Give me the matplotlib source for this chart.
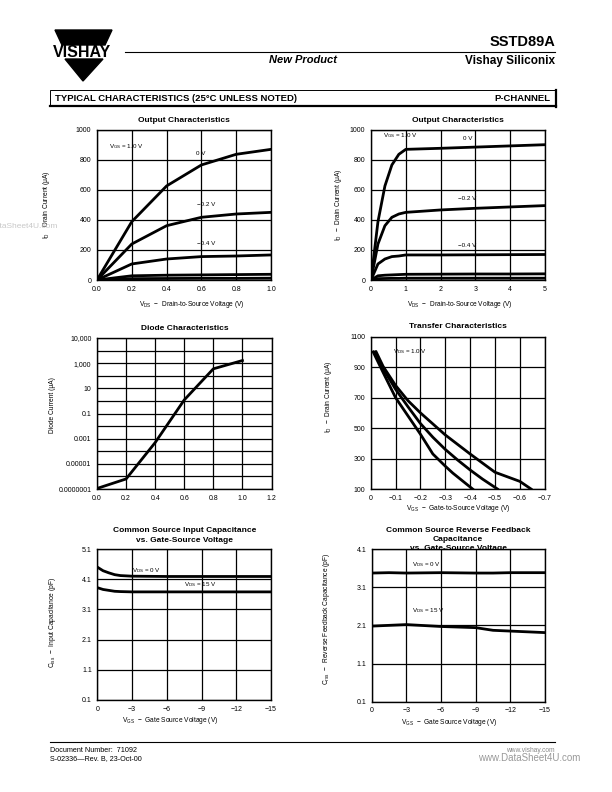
import numpy as np
import matplotlib
matplotlib.use("Agg")
import matplotlib.pyplot as plt
from matplotlib.patches import Polygon, Rectangle

plt.rcParams['font.family'] = ['Liberation Sans', 'DejaVu Sans']
plt.rcParams['mathtext.default'] = 'regular'

W, H = 612, 792

# output characteristics, V_GS = 0, -0.2, -0.4, -0.6, -0.8 V (both top panels)
vds_out = [0, 0.2, 0.4, 0.6, 0.8, 1.0, 2, 3, 4, 5]
id_vgs_0 = [0, 389, 627, 767, 838, 871, 878, 886, 894, 902]
id_vgs_m02 = [0, 240, 362, 418, 440, 451, 467, 478, 487, 496]
id_vgs_m04 = [0, 107, 140, 156, 160, 167, 167, 168, 169, 170]
id_vgs_m06 = [0, 28, 32, 34, 36, 38, 39, 40, 40, 41]
id_vgs_m08 = [0, 9, 10, 11, 11, 12, 12, 12, 12, 12]

# diode characteristics
vd_diode = [0.0, 0.2, 0.4, 0.6, 0.8, 1.0]
id_diode = [1.1e-7, 6.3e-7, 4.9e-4, 1.2, 355, 1620]

# transfer characteristics, three curves
vgs_tr_a = [-0.01, -0.05, -0.1, -0.15, -0.2, -0.25, -0.3, -0.33, -0.41]
id_tr_a = [1000, 865, 700, 580, 460, 330, 250, 205, 100]
vgs_tr_b = [-0.017, -0.05, -0.1, -0.15, -0.2, -0.25, -0.3, -0.35, -0.4, -0.45, -0.51]
id_tr_b = [1000, 890, 755, 640, 530, 440, 360, 290, 225, 165, 100]
vgs_tr_c = [-0.022, -0.05, -0.1, -0.15, -0.2, -0.3, -0.4, -0.5, -0.6, -0.645]
id_tr_c = [1000, 905, 780, 680, 600, 455, 330, 210, 150, 100]

# input capacitance
vgs_ciss = [0, -0.5, -1, -1.5, -2, -3, -6, -9, -12, -15]
ciss_vds0 = [4.5, 4.38, 4.31, 4.25, 4.22, 4.2, 4.19, 4.19, 4.19, 4.19]
ciss_vds15 = [3.82, 3.76, 3.73, 3.7, 3.69, 3.68, 3.68, 3.68, 3.68, 3.68]

# reverse feedback capacitance
vgs_crss = [0, -1.5, -3, -6, -9, -10.5, -12, -15]
crss_vds0 = [3.47, 3.48, 3.47, 3.48, 3.47, 3.47, 3.48, 3.48]
crss_vds15 = [2.08, 2.1, 2.12, 2.07, 2.04, 1.97, 1.95, 1.91]

# tick labels
out1_xticks = ['0.0', '0.2', '0.4', '0.6', '0.8', '1.0']
out_yticks = ['0', '200', '400', '600', '800', '1000']
out2_xticks = ['0', '1', '2', '3', '4', '5']
diode_xticks = ['0.0', '0.2', '0.4', '0.6', '0.8', '1.0', '1.2']
diode_ylabels = ['0.0000001', '0.00001', '0.001', '0.1', '10', '1,000', '10,000']
tr_xticks = ['0', '\u22120.1', '\u22120.2', '\u22120.3', '\u22120.4', '\u22120.5', '\u22120.6', '\u22120.7']
tr_yticks = ['100', '300', '500', '700', '900', '1100']
cap_xticks = ['0', '\u22123', '\u22126', '\u22129', '\u221212', '\u221215']
ciss_yticks = ['0.1', '1.1', '2.1', '3.1', '4.1', '5.1']
crss_yticks = ['0.1', '1.1', '2.1', '3.1', '4.1']

fig = plt.figure(figsize=(W / 100, H / 100), dpi=100)

# page overlay in pixel coordinates
pg = fig.add_axes([0, 0, 1, 1])
pg.set_xlim(0, W)
pg.set_ylim(H, 0)
pg.axis('off')


def box(l, t, r, b):
    return fig.add_axes([l / W, 1 - b / H, (r - l) / W, (b - t) / H])


def style(ax):
    ax.grid(True, color='black', lw=0.9)
    ax.set_axisbelow(True)
    for s in ax.spines.values():
        s.set_linewidth(1.0)
    ax.tick_params(length=0, labelsize=5, pad=4)


def txt(x, y, s, size=5, **kw):
    pg.text(x, y, s, fontsize=size, ha=kw.pop('ha', 'center'), va=kw.pop('va', 'center'), **kw)


lw = 2.0
out_curves = [id_vgs_0, id_vgs_m02, id_vgs_m04, id_vgs_m06, id_vgs_m08]

# --- output characteristics 0..1 V
ax1 = box(97, 130, 271, 280)
for c in out_curves:
    ax1.plot(vds_out, c, color='black', lw=lw, solid_capstyle='round')
ax1.set_xlim(0, 1.0)
ax1.set_ylim(0, 1000)
ax1.set_xticks(np.arange(0, 1.01, 0.2), out1_xticks)
ax1.set_yticks(np.arange(0, 1001, 200), out_yticks)
style(ax1)
ax1.text(0.07, 0.89, 'V$_{GS}$ = 1.0 V', transform=ax1.transAxes, fontsize=4.5, va='center')
ax1.text(0.57, 0.845, '0 V', transform=ax1.transAxes, fontsize=4.5, va='center')
ax1.text(0.575, 0.5, '\u22120.2 V', transform=ax1.transAxes, fontsize=4.5, va='center')
ax1.text(0.575, 0.245, '\u22120.4 V', transform=ax1.transAxes, fontsize=4.5, va='center')

# --- output characteristics 0..5 V
ax2 = box(371, 130, 545, 280)
for c in out_curves:
    ax2.plot(vds_out, c, color='black', lw=lw, solid_capstyle='round')
ax2.set_xlim(0, 5)
ax2.set_ylim(0, 1000)
ax2.set_xticks(range(6), out2_xticks)
ax2.set_yticks(np.arange(0, 1001, 200), out_yticks)
style(ax2)
ax2.text(0.07, 0.96, 'V$_{GS}$ = 1.0 V', transform=ax2.transAxes, fontsize=4.5, va='center')
ax2.text(0.53, 0.94, '0 V', transform=ax2.transAxes, fontsize=4.5, va='center')
ax2.text(0.50, 0.54, '\u22120.2 V', transform=ax2.transAxes, fontsize=4.5, va='center')
ax2.text(0.50, 0.233, '\u22120.4 V', transform=ax2.transAxes, fontsize=4.5, va='center')

# --- diode characteristics
ax3 = box(97, 338, 271.5, 489)
ax3.semilogy(vd_diode, id_diode, color='black', lw=lw)
ax3.set_xlim(0, 1.2)
ax3.set_ylim(1e-7, 1e5)
ax3.set_xticks(np.arange(0, 1.21, 0.2), diode_xticks)
dec = [10.0 ** k for k in range(-7, 6)]
ax3.set_yticks(dec, [diode_ylabels[i // 2] if i % 2 == 0 else '' for i in range(13)])
ax3.minorticks_off()
style(ax3)

# --- transfer characteristics
ax4 = box(370.7, 336.7, 544.7, 489)
for xs, ys in [(vgs_tr_a, id_tr_a), (vgs_tr_b, id_tr_b), (vgs_tr_c, id_tr_c)]:
    ax4.plot(xs, ys, color='black', lw=lw)
ax4.set_xlim(0, -0.7)
ax4.set_ylim(100, 1100)
ax4.set_xticks(np.arange(0, 8) * -0.1, tr_xticks)
ax4.set_yticks(range(100, 1101, 200), tr_yticks)
style(ax4)
ax4.text(0.13, 0.9, 'V$_{DS}$ = 1.0 V', transform=ax4.transAxes, fontsize=4.5, va='center')

# --- input capacitance
ax5 = box(97.3, 549, 271, 700)
ax5.plot(vgs_ciss, ciss_vds0, color='black', lw=lw)
ax5.plot(vgs_ciss, ciss_vds15, color='black', lw=lw)
ax5.set_xlim(0, -15)
ax5.set_ylim(0.1, 5.1)
ax5.set_xticks(range(0, -16, -3), cap_xticks)
ax5.set_yticks(np.arange(0.1, 5.2, 1.0), ciss_yticks)
style(ax5)
ax5.text(0.2, 0.86, 'V$_{DS}$ = 0 V', transform=ax5.transAxes, fontsize=4.5, va='center')
ax5.text(0.5, 0.765, 'V$_{DS}$ = 15 V', transform=ax5.transAxes, fontsize=4.5, va='center')

# --- reverse feedback capacitance
ax6 = box(371.7, 549, 545, 701.7)
ax6.plot(vgs_crss, crss_vds0, color='black', lw=lw)
ax6.plot(vgs_crss, crss_vds15, color='black', lw=lw)
ax6.set_xlim(0, -15)
ax6.set_ylim(0.1, 4.1)
ax6.set_xticks(range(0, -16, -3), cap_xticks)
ax6.set_yticks(np.arange(0.1, 4.2, 1.0), crss_yticks)
style(ax6)
ax6.text(0.23, 0.9, 'V$_{DS}$ = 0 V', transform=ax6.transAxes, fontsize=4.5, va='center')
ax6.text(0.23, 0.6, 'V$_{DS}$ = 15 V', transform=ax6.transAxes, fontsize=4.5, va='center')

# --- titles
tfs = 6.0
txt(184, 120, 'Output Characteristics', tfs, weight='bold')
txt(458, 120, 'Output Characteristics', tfs, weight='bold')
txt(185, 328, 'Diode Characteristics', tfs, weight='bold')
txt(457.5, 327, 'Transfer Characteristics', tfs, weight='bold')
txt(185, 531, 'Common Source Input Capacitance', tfs, weight='bold')
txt(185, 540, 'vs. Gate-Source Voltage', tfs, weight='bold')
txt(458, 531, 'Common Source Reverse Feedback', tfs, weight='bold')
txt(458, 539.5, 'Capacitance', tfs, weight='bold')
txt(458, 548, 'vs. Gate-Source Voltage', tfs, weight='bold')

# --- axis labels
afs = 4.8
txt(192, 305, 'V$_{DS}$  \u2212  Drain-to-Source Voltage (V)', afs)
txt(460, 305, 'V$_{DS}$  \u2212  Drain-to-Source Voltage (V)', afs)
txt(458, 508, 'V$_{GS}$  \u2212  Gate-to-Source Voltage (V)', afs)
txt(170, 721, 'V$_{GS}$  \u2212  Gate Source Voltage (V)', afs)
txt(449, 722, 'V$_{GS}$  \u2212  Gate Source Voltage (V)', afs)
txt(47, 205, 'I$_D$    Drain Current (\u03bcA)', afs, rotation=90)
txt(339, 205, 'I$_D$  \u2212  Drain Current (\u03bcA)', afs, rotation=90)
txt(53, 405, 'Diode Current (\u03bcA)', afs, rotation=90)
txt(328, 397, 'I$_D$  \u2212  Drain Current (\u03bcA)', afs, rotation=90)
txt(53, 623, 'C$_{iss}$  \u2212  Input Capacitance (pF)', afs, rotation=90)
txt(326, 619, 'C$_{rss}$  \u2212  Reverse Feedback Capacitance (pF)', afs, rotation=90)
txt(57, 226, 'www.DataSheet4U.com', 6, ha='right', color='#c8c8c8')

# --- header
pg.add_patch(Polygon([(55, 30), (112, 30), (105, 45), (62, 45)], closed=True, color='black'))
pg.add_patch(Polygon([(65, 59), (103, 59), (83, 81)], closed=True, color='black'))
txt(82, 52.5, 'VISHAY', 11.5, weight='bold')
pg.plot([125, 555], [52, 52], color='black', lw=0.8)
txt(555, 42, 'SSTD89A', 10.5, ha='right', weight='bold')
txt(555, 61, 'Vishay Siliconix', 8.5, ha='right', weight='bold')
txt(303, 60, 'New Product', 8, weight='bold', style='italic')
pg.add_patch(Rectangle((50, 90), 505, 16, fill=False, lw=0.7, color='black'))
pg.plot([50, 555.5], [106, 106], color='black', lw=1.6)
pg.plot([555.5, 555.5], [90, 106.5], color='black', lw=1.6)
txt(55, 98.5, 'TYPICAL CHARACTERISTICS (25\u00b0C UNLESS NOTED)', 6.8, ha='left', weight='bold')
txt(550, 98.5, 'P-CHANNEL', 6.8, ha='right', weight='bold')

# --- footer
pg.plot([50, 555], [742, 742], color='black', lw=0.8)
txt(50, 750, 'Document Number:  71092', 5.2, ha='left')
txt(50, 759, 'S-02336\u2014Rev. B, 23-Oct-00', 5.2, ha='left')
txt(555, 750, 'www.vishay.com', 4.8, ha='right', color='#888888')
txt(580, 758, 'www.DataSheet4U.com', 7, ha='right', color='#999999')

fig.savefig('out.png', dpi=100)
